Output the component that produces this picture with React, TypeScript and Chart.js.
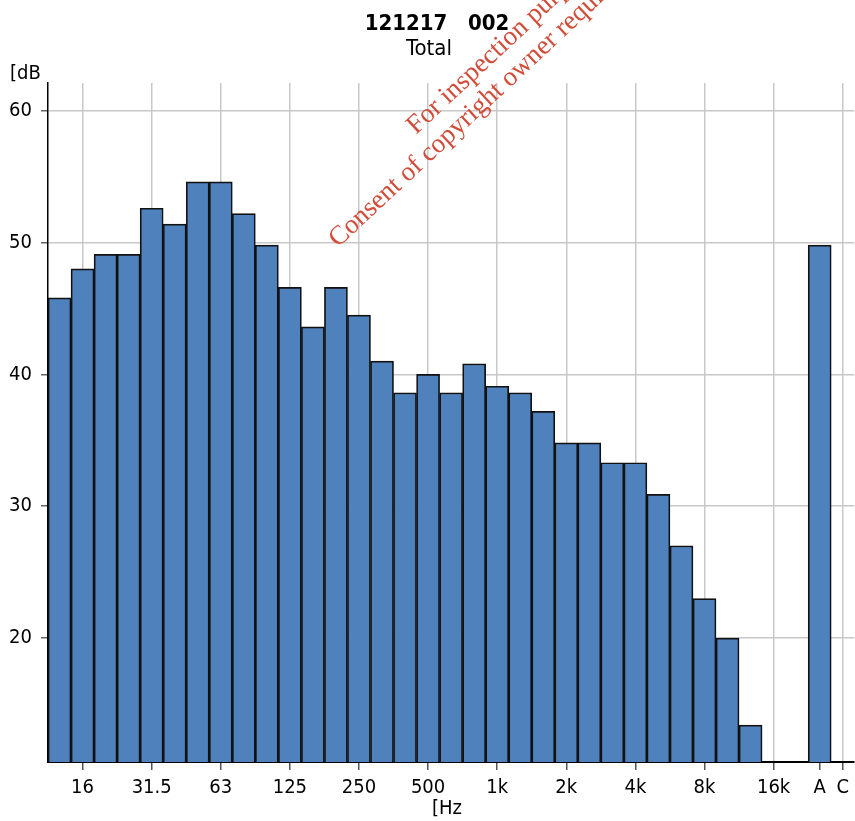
import React, { useEffect, useRef } from "react";
import { Chart, registerables } from "chart.js";

Chart.register(...registerables);

const categories = ["12.5", "16", "20", "25", "31.5", "40", "50", "63", "80", "100", "125", "160", "200", "250", "315", "400", "500", "630", "800", "1k", "1.25k", "1.6k", "2k", "2.5k", "3.15k", "4k", "5k", "6.3k", "8k", "10k", "12.5k", "16k", "20k", "A", "C"];
const levels = [45.8, 48.0, 49.1, 49.1, 52.6, 51.4, 54.6, 54.6, 52.2, 49.8, 46.6, 43.6, 46.6, 44.5, 41.0, 38.6, 40.0, 38.6, 40.8, 39.1, 38.6, 37.2, 34.8, 34.8, 33.3, 33.3, 30.9, 27.0, 23.0, 20.0, 13.4, null, null, 49.8, null];
const shownLabels = ["16", "31.5", "63", "125", "250", "500", "1k", "2k", "4k", "8k", "16k", "A", "C"];
const noGridLabels = ["A"];
const yTicks = [20, 30, 40, 50, 60];
const yMin = 10.6;
const yMax = 62.1;
const titleText = "121217   002";
const subtitleText = "Total";
const yUnit = "[dB";
const xUnit = "[Hz";
const watermark = ["For inspection purposes only.", "Consent of copyright owner required for any other use."];

const FONT = "'DejaVu Sans Condensed', 'Noto Sans', sans-serif";

export default function App() {
  const ref = useRef<HTMLCanvasElement | null>(null);

  useEffect(() => {
    if (!ref.current) return;
    const overlay = {
      id: "overlay",
      afterDraw(chart: any) {
        const ctx = chart.ctx as CanvasRenderingContext2D;
        ctx.save();
        ctx.fillStyle = "#000";
        ctx.textBaseline = "alphabetic";
        ctx.textAlign = "center";
        ctx.font = `bold 22px ${FONT}`;
        ctx.fillText(titleText, 437, 30);
        ctx.font = `22px ${FONT}`;
        ctx.fillText(subtitleText, 429, 55);
        ctx.font = `20px ${FONT}`;
        ctx.textAlign = "left";
        ctx.fillText(yUnit, 10, 79);
        ctx.fillText(xUnit, 432, 814);
        ctx.fillStyle = "#d24c3a";
        ctx.font = "27px 'Liberation Serif', serif";
        const starts = [
          [416, 135],
          [338, 248],
        ];
        watermark.forEach((t, i) => {
          ctx.save();
          ctx.translate(starts[i][0], starts[i][1]);
          ctx.rotate((-43 * Math.PI) / 180);
          ctx.fillText(t, 0, 0);
          ctx.restore();
        });
        ctx.restore();
      },
    };

    const isShown = (i: number) => shownLabels.includes(categories[i]);
    const hasGrid = (i: number) => isShown(i) && !noGridLabels.includes(categories[i]);

    const chart = new Chart(ref.current, {
      type: "bar",
      data: {
        labels: categories,
        datasets: [
          {
            data: levels as any,
            backgroundColor: "#4f81bd",
            borderColor: "#111111",
            borderWidth: 1.7,
            barPercentage: 1,
            categoryPercentage: 1,
          },
        ],
      },
      options: {
        animation: false,
        responsive: true,
        maintainAspectRatio: false,
        layout: { padding: { top: 83, left: 0, right: 0, bottom: 0 } },
        plugins: {
          legend: { display: false },
          title: { display: false },
          tooltip: { enabled: false },
        },
        scales: {
          x: {
            type: "category",
            offset: true,
            grid: {
              offset: false,
              color: (c: any) => (hasGrid(c.index) ? "#c8c8c8" : "rgba(0,0,0,0)"),
              lineWidth: 1.5,
              tickColor: (c: any) => (isShown(c.index) ? "#555555" : "rgba(0,0,0,0)"),
              tickLength: 8,
              tickWidth: 1.5,
            },
            border: { color: "#000", width: 2 },
            ticks: {
              autoSkip: false,
              maxRotation: 0,
              minRotation: 0,
              padding: 6,
              color: "#000",
              font: { family: FONT, size: 20 },
              callback: (v: any, i: number) => (isShown(i) ? categories[i] : ""),
            },
            afterFit: (s: any) => {
              s.height = 59;
            },
          },
          y: {
            min: yMin,
            max: yMax,
            grid: {
              color: "#c8c8c8",
              lineWidth: 1.5,
              tickColor: "#666666",
              tickLength: 7,
              tickWidth: 1.5,
            },
            border: { color: "#000", width: 1.5 },
            afterBuildTicks: (s: any) => {
              s.ticks = yTicks.map((v) => ({ value: v }));
            },
            ticks: {
              padding: 9,
              color: "#000",
              font: { family: FONT, size: 20 },
            },
            afterFit: (s: any) => {
              s.width = 48;
            },
          },
        },
      },
      plugins: [overlay],
    });
    return () => chart.destroy();
  }, []);

  return (
    <div style={{ position: "fixed", left: 0, top: 0, width: 855, height: 821, background: "#fff" }}>
      <canvas ref={ref} />
    </div>
  );
}
